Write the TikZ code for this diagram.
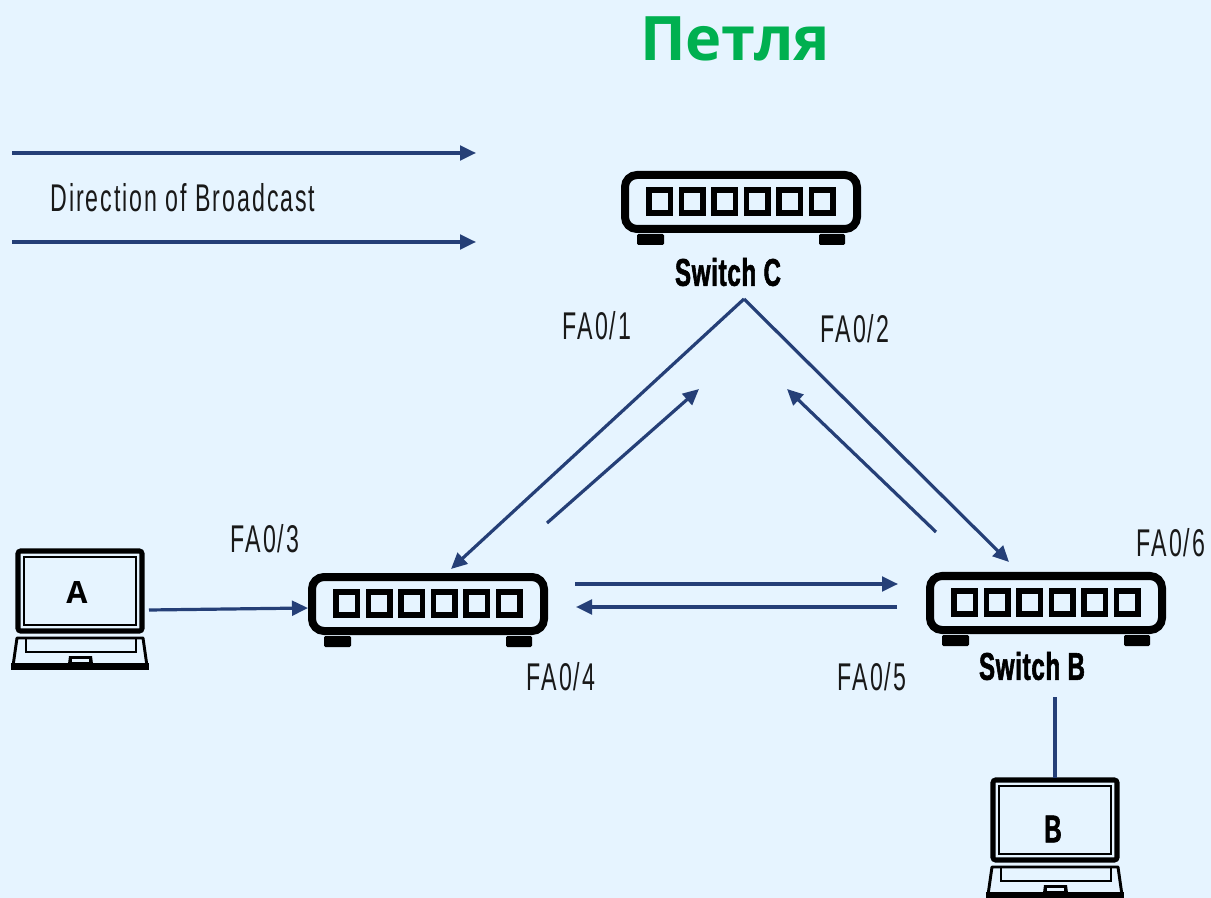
\documentclass[tikz,border=0pt]{standalone}
\usepackage{fontspec}
\setmainfont{Open Sans}
\newfontfamily\narrowfont[FakeStretch=0.6,LetterSpace=5]{Liberation Sans}
\newfontfamily\boldnarrow[FakeStretch=0.62,LetterSpace=2,FakeBold=1.5]{Liberation Sans}
\newfontfamily\titlefont{Open Sans}
\usetikzlibrary{arrows.meta}
\definecolor{bgc}{HTML}{E6F4FF}
\definecolor{linkc}{HTML}{253F77}
\definecolor{titlec}{HTML}{00B050}
\tikzset{
  link/.style={draw=linkc,line width=2.4pt,-{Triangle[length=12pt,width=11pt]}},
  plain/.style={draw=linkc,line width=2.4pt},
  portlabel/.style={font=\narrowfont\fontsize{29}{29}\selectfont,inner sep=0pt,text=black!90},
  swlabel/.style={font=\boldnarrow\bfseries\fontsize{29}{29}\selectfont,inner sep=0pt},
  switchbox/.pic={
    \draw[line width=6pt,rounded corners=9pt] (4,4) rectangle (236,58);
    \foreach \i in {0,...,5}
      \draw[line width=4.4pt] ({28+32.5*\i},19) rectangle ({49.5+32.5*\i},42);
    \fill[rounded corners=1pt] (16,63) rectangle (43,74);
    \fill[rounded corners=1pt] (198,63) rectangle (224,74);
  },
  laptop/.pic={
    \draw[line width=3.8pt,rounded corners=2pt] (8,3) rectangle (132,83);
    \draw[line width=1.8pt] (14,9) rectangle (126,77);
    \draw[line width=2.2pt,line join=round] (3,118) -- (7,90) -- (133,90) -- (137,118);
    \draw[line width=2.2pt] (16,90) -- (16,104) -- (126,104) -- (126,90);
    \fill (1,115) rectangle (139,122);
    \fill (58,116) -- (59,108) -- (82,108) -- (83,116) -- cycle;
    \fill[bgc] (62,111) rectangle (79,114);
  }
}
\begin{document}
\begin{tikzpicture}[x=0.75pt,y=-0.75pt]
\useasboundingbox (0,0) rectangle (1211,898);
\fill[bgc] (0,0) rectangle (1211,898);

\node[font=\titlefont\bfseries\fontsize{46}{46}\selectfont,text=titlec,inner sep=0pt] (title) at (735,39) {Петля};

\pic at (621,171) {switchbox};
\pic at (308,573) {switchbox};
\pic at (926,572) {switchbox};
\pic at (10,548) {laptop};
\pic at (985,777) {laptop};

\node[font=\bfseries\fontsize{23}{23}\selectfont,inner sep=0pt] (labA) at (77,593) {A};
\node[swlabel] (labB) at (1053,829) {B};
\node[swlabel] (swC) at (728,272) {Switch C};
\node[swlabel] (swB) at (1032,666) {Switch B};
\node[portlabel] (dir) at (183,198) {Direction of Broadcast};
\node[portlabel] (fa1) at (597,326) {FA0/1};
\node[portlabel] (fa2) at (855,329) {FA0/2};
\node[portlabel] (fa3) at (265,539) {FA0/3};
\node[portlabel] (fa4) at (561,677) {FA0/4};
\node[portlabel] (fa5) at (872,677) {FA0/5};
\node[portlabel] (fa6) at (1171,543) {FA0/6};

\coordinate (bt1) at (12,153); \coordinate (bt2) at (476,153);
\coordinate (bb1) at (12,242); \coordinate (bb2) at (476,242);
\coordinate (apex) at (744,299);
\coordinate (aswTop) at (451,569);
\coordinate (bswTop) at (1009,562);
\coordinate (in1a) at (547,523); \coordinate (in1b) at (699,389);
\coordinate (in2a) at (936,532); \coordinate (in2b) at (787,389);
\coordinate (h1a) at (575,584); \coordinate (h1b) at (898,584);
\coordinate (h2a) at (897,607); \coordinate (h2b) at (576,607);
\coordinate (laOut) at (149,610); \coordinate (aswIn) at (308,608);
\coordinate (bswOut) at (1055,697); \coordinate (lbIn) at (1055,778);

\draw[link] (bt1) -- (bt2);
\draw[link] (bb1) -- (bb2);
\draw[link] (apex) -- (aswTop);
\draw[link] (apex) -- (bswTop);
\draw[link] (in1a) -- (in1b);
\draw[link] (in2a) -- (in2b);
\draw[link] (h1a) -- (h1b);
\draw[link] (h2a) -- (h2b);
\draw[link] (laOut) -- (aswIn);
\draw[plain] (bswOut) -- (lbIn);
\end{tikzpicture}
\end{document}
